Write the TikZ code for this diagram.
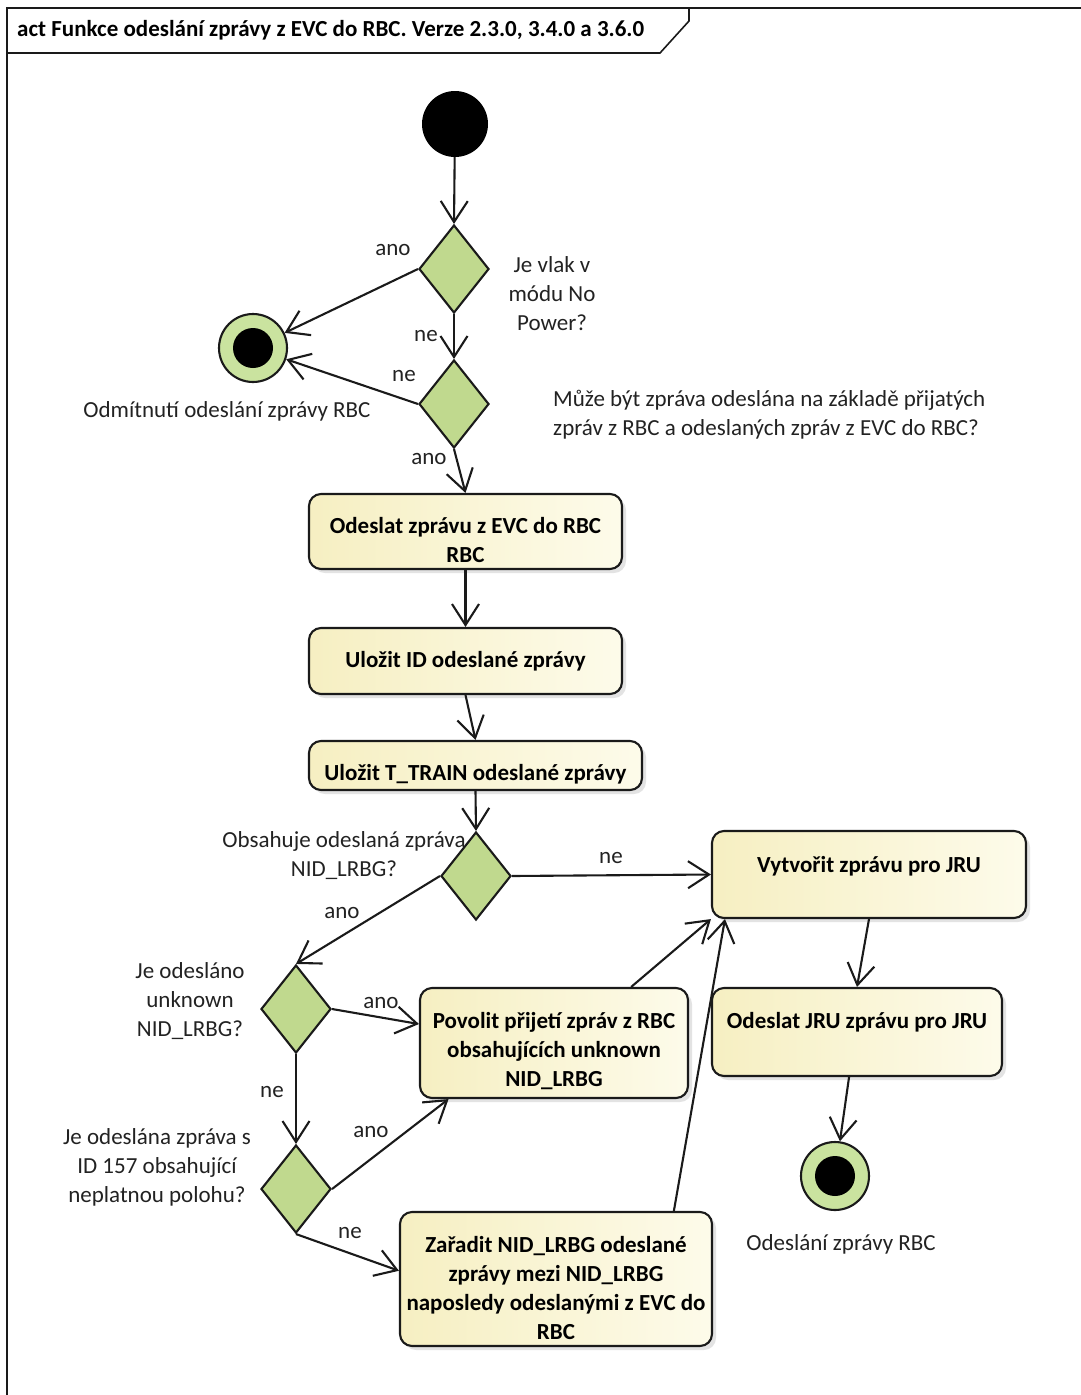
\documentclass[tikz,border=0pt]{standalone}
\usepackage{fontspec}
\setmainfont{Carlito}
\usetikzlibrary{arrows.meta,shapes.geometric,shadows,calc}

\definecolor{boxL}{HTML}{F6EFC2}
\definecolor{boxR}{HTML}{FDFBEA}
\definecolor{decFill}{HTML}{C0D98E}
\definecolor{ringFill}{HTML}{CAE39F}
\definecolor{lineC}{HTML}{1A1A1A}
\definecolor{txtC}{HTML}{222222}

% action text: lines set from the top of the box
% #1 = depth trimmed (moves text down by #1/2), #2 = height trimmed (moves text up by #2/2)
\newcommand\acttext[3]{\raisebox{0pt}[\dimexpr\height-#2\relax][\dimexpr\depth-#1\relax]{%
  \begin{tabular}{@{}c@{}}#3\end{tabular}}}

\tikzset{
  flow/.style={draw=lineC, line width=2.1pt,
    -{Straight Barb[length=21pt,width=27pt,line width=2.1pt]}},
  actbox/.style={draw=lineC, line width=2.1pt, rounded corners=12pt,
    left color=boxL, right color=boxR, inner sep=0pt,
    drop shadow={shadow xshift=4pt, shadow yshift=-4pt, fill=black!22},
    font=\fontsize{23}{29}\selectfont\bfseries, align=center},
  decision/.style={diamond, draw=lineC, line width=2.1pt, fill=decFill,
    inner sep=0pt, minimum width=70pt, minimum height=88pt},
  startnode/.style={circle, fill=black, minimum size=66pt, inner sep=0pt},
  endnode/.style={circle, draw=lineC, line width=2.1pt, fill=ringFill,
    minimum size=68pt, inner sep=0pt,
    path picture={\fill[black] (path picture bounding box.center) circle (20pt);}},
  lbl/.style={font=\fontsize{23}{29}\selectfont, text=txtC, inner sep=0pt, align=center},
}

\begin{document}
\begin{tikzpicture}[x=1pt, y=-1pt]
\useasboundingbox (0,0) rectangle (1081,1395);

% frame with title tab
\draw[lineC, line width=1.8pt] (7,1395) -- (7,8) -- (1081,8);
\draw[lineC, line width=1.6pt] (7,53) -- (660,53) -- (689,21) -- (689,8);
\node[anchor=west, font=\fontsize{23}{27}\selectfont\bfseries, inner sep=0pt]
  (title) at (17,30) {act Funkce odeslání zprávy z EVC do RBC. Verze 2.3.0, 3.4.0 a 3.6.0};

% nodes
\node[startnode] (init) at (455,124) {};
\node[decision] (d1) at (454,269) {};
\node[decision] (d2) at (454,404) {};
\node[endnode] (f1) at (253,348) {};

\node[actbox, minimum width=313pt, minimum height=75pt] (a1) at (465.5,531.5)
  {\acttext{22pt}{0pt}{Odeslat zprávu z EVC do RBC\\RBC}};
\node[actbox, minimum width=313pt, minimum height=66pt] (a2) at (465.5,661)
  {\acttext{2pt}{0pt}{Uložit ID odeslané zprávy}};
\node[actbox, minimum width=333pt, minimum height=49pt] (a3) at (475.5,765.5)
  {\acttext{0pt}{-18pt}{Uložit T\_TRAIN odeslané zprávy}};

\node[decision] (d3) at (476,876) {};
\node[actbox, minimum width=314pt, minimum height=87pt] (a4) at (869,874.5)
  {\acttext{0pt}{16pt}{Vytvořit zprávu pro JRU}};
\node[actbox, minimum width=290pt, minimum height=88pt] (a5) at (857,1032)
  {\acttext{0pt}{18pt}{Odeslat JRU zprávu pro JRU}};
\node[endnode] (f2) at (835,1176) {};

\node[decision] (d4) at (296,1009) {};
\node[actbox, minimum width=268pt, minimum height=110pt] (a6) at (554,1043)
  {\acttext{18pt}{0pt}{Povolit přijetí zpráv z RBC\\obsahujících unknown\\NID\_LRBG}};
\node[decision] (d5) at (296,1189) {};
\node[actbox, minimum width=312pt, minimum height=134pt] (a7) at (556,1279)
  {\acttext{23pt}{0pt}{Zařadit NID\_LRBG odeslané\\zprávy mezi NID\_LRBG\\naposledy odeslanými z EVC do\\RBC}};

% texts
\node[lbl] (q1) at (552,294) {Je vlak v\\módu No\\Power?};
\node[lbl, anchor=west, align=left] (q2) at (553,415)
  {Může být zpráva odeslána na základě přijatých\\zpráv z RBC a odeslaných zpráv z EVC do RBC?};
\node[lbl] (e1) at (227,411) {Odmítnutí odeslání zprávy RBC};
\node[lbl] (q3) at (344,856) {Obsahuje odeslaná zpráva\\NID\_LRBG?};
\node[lbl] (q4) at (190,1001) {Je odesláno\\unknown\\NID\_LRBG?};
\node[lbl] (q5) at (157,1167) {Je odeslána zpráva s\\ID 157 obsahující\\neplatnou polohu?};
\node[lbl] (e2) at (841,1244) {Odeslání zprávy RBC};

\node[lbl] (g1) at (393,250) {ano};
\node[lbl] (g2) at (426,336) {ne};
\node[lbl] (g3) at (404,376) {ne};
\node[lbl] (g4) at (429,459) {ano};
\node[lbl] (g5) at (611,858) {ne};
\node[lbl] (g6) at (342,913) {ano};
\node[lbl] (g7) at (381,1003) {ano};
\node[lbl] (g8) at (272,1092) {ne};
\node[lbl] (g9) at (371,1132) {ano};
\node[lbl] (g10) at (350,1233) {ne};

% control flows
\draw[flow] (init) -- (d1.north);
\draw[flow] (d1.west) -- (f1);
\draw[flow] (d1.south) -- (d2.north);
\draw[flow] (d2.west) -- (f1);
\draw[flow] (d2.south) -- (a1.north);
\draw[flow] (a1.south) -- (a2.north);
\draw[flow] (a2.south) -- (a3.north);
\draw[flow] (a3.south) -- (d3.north);
\draw[flow] (d3.east) -- (a4.west);
\draw[flow] (d3.west) -- (d4.north);
\draw[flow] (d4.east) -- (a6.172);
\draw[flow] (d4.south) -- (d5.north);
\draw[flow] (d5.east) -- (a6.208);
\draw[flow] (d5.south) -- (a7.177);
\draw[flow] (a6.36) -- (a4.south west);
\draw[flow] (a7.30) -- ([xshift=14pt]a4.south west);
\draw[flow] (a4.south) -- (a5.north);
\draw[flow] (a5.260) -- (f2);
\end{tikzpicture}
\end{document}
